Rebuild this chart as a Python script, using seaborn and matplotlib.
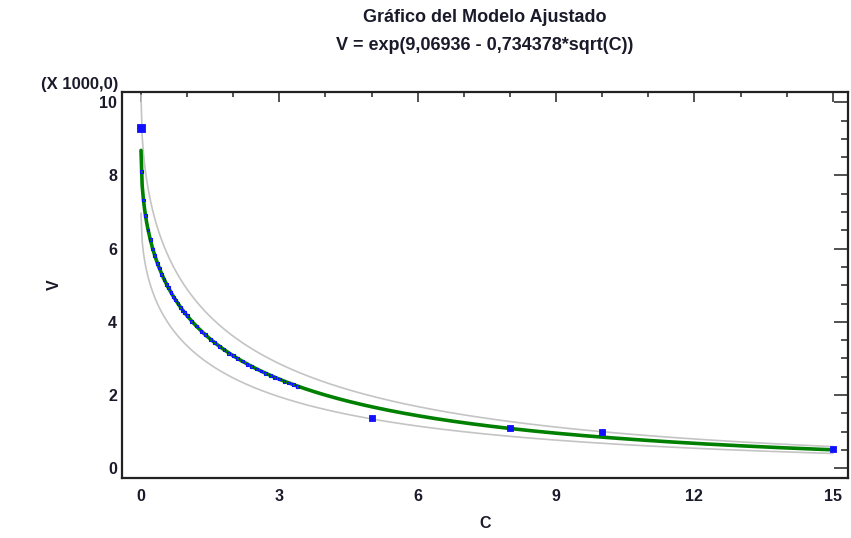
import numpy as np
import matplotlib
matplotlib.use("Agg")
import matplotlib.pyplot as plt
import seaborn as sns
from matplotlib.ticker import MultipleLocator, FixedLocator

# Observed concentrations (C) and responses (V)
conc = [0.0, 0.01, 0.05, 0.1, 0.15, 0.2, 0.25, 0.3, 0.35, 0.4, 0.45, 0.5,
        0.55, 0.6, 0.65, 0.7, 0.75, 0.8, 0.85, 0.9, 0.95, 1.0, 1.1, 1.2,
        1.3, 1.4, 1.5, 1.6, 1.7, 1.8, 1.9, 2.0, 2.1, 2.2, 2.3, 2.4, 2.5,
        2.6, 2.7, 2.8, 2.9, 3.0, 3.1, 3.2, 3.3, 3.4,
        5.0, 8.0, 10.0, 15.0]
resp = [9300, 8100, 7330, 6900, 6510, 6260, 5990, 5820, 5600, 5470, 5290,
        5150, 5030, 4930, 4800, 4680, 4600, 4510, 4400, 4300, 4250, 4180,
        4000, 3890, 3740, 3650, 3520, 3440, 3320, 3250, 3140, 3080, 2990,
        2930, 2840, 2790, 2710, 2660, 2590, 2540, 2480, 2440, 2380, 2330,
        2290, 2240,
        1370, 1090, 980, 530]

# Fitted model: V = exp(b0 - b1*sqrt(C))
b0 = 9.06936
b1 = 0.734378
# Prediction limits as offsets on the log scale
upper_log = 0.16
lower_log = -0.22

title_lines = ["Gráfico del Modelo Ajustado",
               "V = exp(9,06936 - 0,734378*sqrt(C))"]
x_ticks = [0, 3, 6, 9, 12, 15]
y_ticks = [0, 2, 4, 6, 8, 10]
scale_label = "(X 1000,0)"
scale = 1000.0

sns.set_theme(style="white")
plt.rcParams["font.family"] = ["Liberation Sans", "DejaVu Sans"]
plt.rcParams["font.weight"] = "bold"

TXT = "#1a1a2a"
W, H = 851, 538
fig = plt.figure(figsize=(W / 100, H / 100), dpi=100)
fig.patch.set_facecolor("white")
ax = fig.add_axes([122 / W, 1 - 478 / H, (848 - 122) / W, (478 - 92) / H])
ax.set_facecolor("white")

grid = np.linspace(0, 15, 600)
log_fit = b0 - b1 * np.sqrt(grid)
fit = np.exp(log_fit) / scale
upper = np.exp(log_fit + upper_log) / scale
lower = np.exp(log_fit + lower_log) / scale

sns.lineplot(x=grid, y=upper, ax=ax, color="#c4c4c4", linewidth=1.2,
             estimator=None, sort=False)
sns.lineplot(x=grid, y=lower, ax=ax, color="#c4c4c4", linewidth=1.2,
             estimator=None, sort=False)
sns.lineplot(x=grid, y=fit, ax=ax, color="#008000", linewidth=2.6,
             estimator=None, sort=False)

c_arr = np.array(conc)
v_arr = np.array(resp) / scale
dense = c_arr < 4
sns.scatterplot(x=c_arr[dense], y=v_arr[dense], ax=ax, marker="s", s=4,
                facecolor="none", edgecolor="#1010ff", linewidth=0.8, zorder=5)
sns.scatterplot(x=c_arr[~dense], y=v_arr[~dense], ax=ax, marker="s", s=20,
                color="#1010ff", edgecolor="#1010ff", linewidth=0.6, zorder=6)
sns.scatterplot(x=c_arr[:1], y=v_arr[:1], ax=ax, marker="s", s=28,
                color="#1010ff", edgecolor="#1010ff", linewidth=0.6, zorder=6)

ax.set_xlim(-0.412, 15.33)
ax.set_ylim(-0.265, 10.28)
ax.xaxis.set_major_locator(FixedLocator(x_ticks))
ax.yaxis.set_major_locator(FixedLocator(y_ticks))
ax.xaxis.set_minor_locator(MultipleLocator(1))
ax.yaxis.set_minor_locator(MultipleLocator(0.5))
ax.set_xticklabels([str(t) for t in x_ticks])
ax.set_yticklabels([str(t) for t in y_ticks])

for side in ["left", "right", "top", "bottom"]:
    ax.spines[side].set_visible(True)
    ax.spines[side].set_color("#222222")
    ax.spines[side].set_linewidth(1.6)

ax.tick_params(axis="both", which="both", direction="in", top=True,
               right=True, color="#222222", width=1.1,
               labelsize=11.5, labelcolor=TXT)
ax.tick_params(axis="x", which="major", length=7, pad=8)
ax.tick_params(axis="x", which="minor", length=3.5)
ax.tick_params(axis="y", which="major", length=10, pad=3.5)
ax.tick_params(axis="y", which="minor", length=5)
for lab in ax.get_xticklabels() + ax.get_yticklabels():
    lab.set_fontweight("bold")

ax.set_xlabel("C", fontsize=11.5, fontweight="bold", color=TXT)
ax.set_ylabel("V", fontsize=11.5, fontweight="bold", color=TXT)
ax.xaxis.set_label_coords(0.5, -0.098)
ax.yaxis.set_label_coords(-0.0826, 0.5)

fig.text(485 / W, 1 - 18 / H, title_lines[0], ha="center", va="center",
         fontsize=13, fontweight="bold", color=TXT)
fig.text(485 / W, 1 - 45 / H, title_lines[1], ha="center", va="center",
         fontsize=13, fontweight="bold", color=TXT)
fig.text(118 / W, 1 - 84 / H, scale_label, ha="right", va="center",
         fontsize=12, fontweight="bold", color=TXT)

fig.savefig("out.png", dpi=100, facecolor="white")
